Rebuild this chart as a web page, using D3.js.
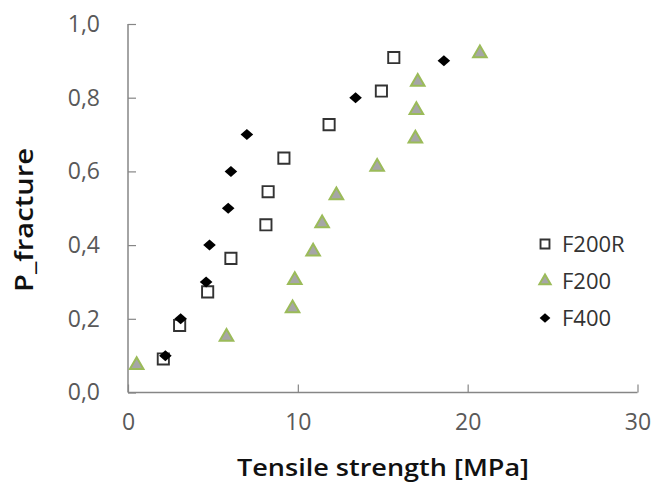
<!DOCTYPE html>
<html><head><meta charset="utf-8">
<script src="https://cdn.jsdelivr.net/npm/d3@7"></script>
<style>body{margin:0;background:#fff;} svg{display:block;}</style>
</head><body>
<svg id="c" width="653" height="483"></svg>
<script>
const xTicks = [0, 10, 20, 30];
const yTicks = [0, 0.2, 0.4, 0.6, 0.8, 1.0];
const seriesNames = ["F200R", "F200", "F400"];
const f200rX = [2.08, 3.04, 4.69, 6.06, 8.12, 8.25, 9.18, 11.84, 14.92, 15.65];
const f200rY = [0.091, 0.182, 0.273, 0.364, 0.455, 0.545, 0.636, 0.727, 0.818, 0.909];
const f200X = [0.51, 5.8, 9.69, 9.82, 10.9, 11.43, 12.27, 14.67, 16.92, 16.98, 17.06, 20.72];
const f200Y = [0.077, 0.154, 0.231, 0.308, 0.385, 0.462, 0.538, 0.615, 0.692, 0.769, 0.846, 0.923];
const f400X = [2.2, 3.1, 4.6, 4.8, 5.9, 6.06, 7.0, 13.4, 18.6];
const f400Y = [0.1, 0.2, 0.3, 0.4, 0.5, 0.6, 0.7, 0.8, 0.9];

const svg = d3.select("#c");
const x = d3.scaleLinear().domain([0, 30]).range([128, 637.5]);
const y = d3.scaleLinear().domain([0, 1]).range([392.5, 24]);
const font = "'Open Sans', 'Liberation Sans', sans-serif";
const axisCol = "#868686";
const fmt = d => d3.format(".1f")(d).replace(".", ",");

const ya = svg.append("g").attr("transform", `translate(${x(0)},0)`)
  .call(d3.axisLeft(y).tickValues(yTicks).tickSize(-8).tickPadding(28).tickFormat(fmt));
const xa = svg.append("g").attr("transform", `translate(0,${y(0)})`)
  .call(d3.axisBottom(x).tickValues(xTicks).tickSize(-8).tickPadding(26).tickFormat(d3.format("d")));
[ya, xa].forEach(a => {
  a.select(".domain").attr("stroke", axisCol).attr("stroke-width", 1.5);
  a.selectAll(".tick line").attr("stroke", axisCol).attr("stroke-width", 1.2);
  a.selectAll("text").attr("font-family", font).attr("font-size", 23).attr("fill", "#595959");
});
ya.select(".domain").attr("d", `M0,${y(1)}V${y(0)}`);
xa.select(".domain").attr("d", `M${x(0)},0H${x(30)}`);
xa.selectAll(".tick text").attr("dy", "0.5em");

svg.append("text").attr("x", 383).attr("y", 476).attr("text-anchor", "middle")
  .attr("font-family", font).attr("font-size", 23).attr("font-weight", 600).attr("fill", "#111")
  .attr("textLength", 292).attr("lengthAdjust", "spacingAndGlyphs")
  .text("Tensile strength [MPa]");
svg.append("text").attr("transform", "translate(33,220) rotate(-90)").attr("text-anchor", "middle")
  .attr("font-family", font).attr("font-size", 25).attr("font-weight", 600).attr("fill", "#111")
  .attr("textLength", 144).attr("lengthAdjust", "spacingAndGlyphs")
  .text("P_fracture");

const diamondType = {
  draw(ctx, size) {
    const w = Math.sqrt(size) * 0.85, h = Math.sqrt(size) * 0.74;
    ctx.moveTo(0, -h); ctx.lineTo(w, 0); ctx.lineTo(0, h); ctx.lineTo(-w, 0); ctx.closePath();
  }
};
function drawSquare(g, s) { g.attr("d", d3.symbol().type(d3.symbolSquare).size(s)).attr("fill", "#fff").attr("stroke", "#333").attr("stroke-width", 1.9); }
function drawTri(g, s) { g.attr("d", d3.symbol().type(d3.symbolTriangle).size(s)).attr("fill", "#a6a6a6").attr("stroke", "#9bbb59").attr("stroke-width", 2); }
function drawDia(g, s) { g.attr("d", d3.symbol().type(diamondType).size(s)).attr("fill", "#000"); }

svg.append("g").selectAll("path").data(d3.zip(f200rX, f200rY)).join("path")
  .attr("transform", d => `translate(${x(d[0])},${y(d[1])})`).call(drawSquare, 125);
svg.append("g").selectAll("path").data(d3.zip(f200X, f200Y)).join("path")
  .attr("transform", d => `translate(${x(d[0])},${y(d[1]) + 1})`).call(drawTri, 80);
svg.append("g").selectAll("path").data(d3.zip(f400X, f400Y)).join("path")
  .attr("transform", d => `translate(${x(d[0])},${y(d[1])})`).call(drawDia, 55);

const drawers = [[drawSquare, 80], [drawTri, 55], [drawDia, 40]];
const lg = svg.append("g");
seriesNames.forEach((n, i) => {
  const cy = 244 + i * 37;
  lg.append("path").attr("transform", `translate(545,${cy})`).call(drawers[i][0], drawers[i][1]);
  lg.append("text").attr("x", 562).attr("y", cy).attr("dy", "0.36em")
    .attr("font-family", font).attr("font-size", 22).attr("fill", "#333").text(n);
});
</script>
</body></html>
